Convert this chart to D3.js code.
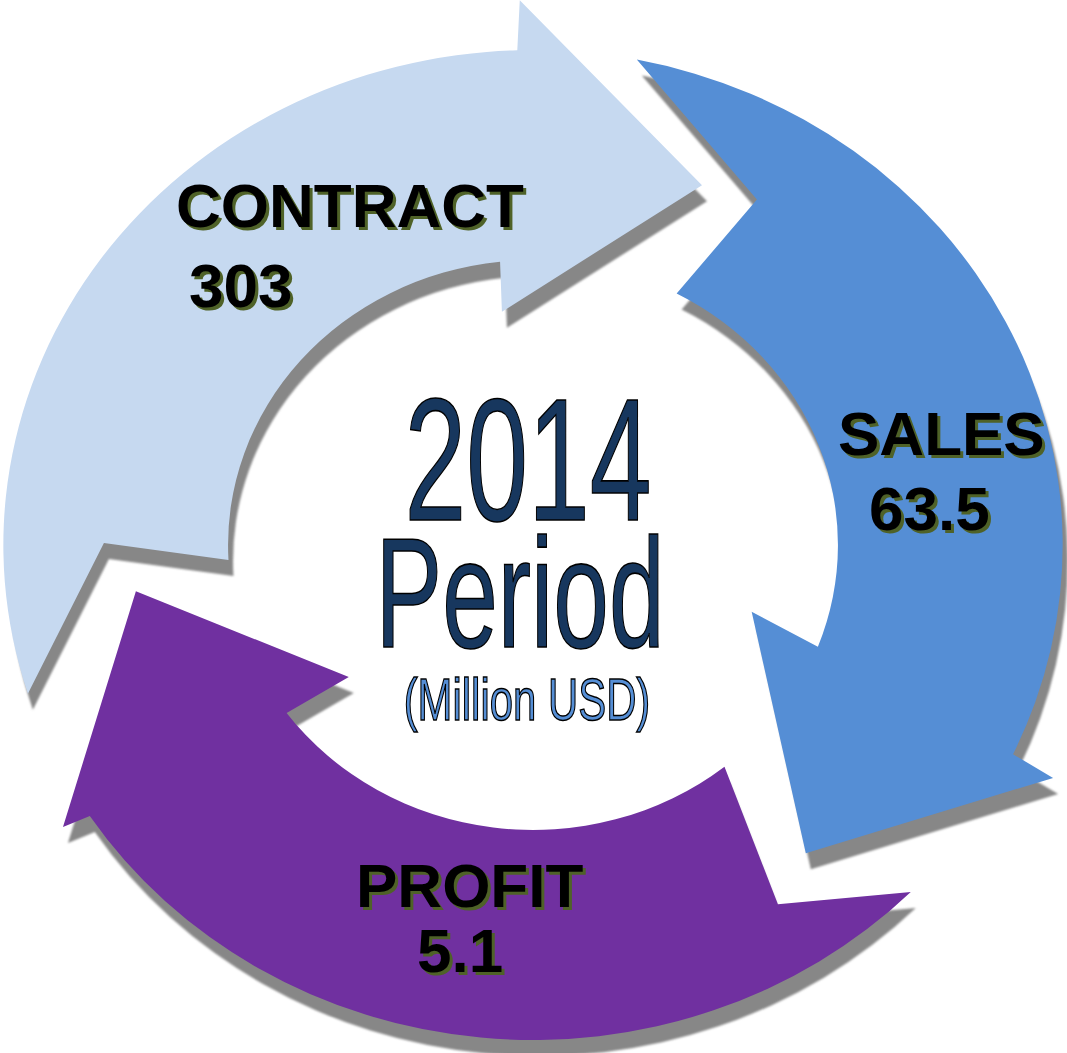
<!DOCTYPE html>
<html>
<head>
<meta charset="utf-8">
<script src="https://cdn.jsdelivr.net/npm/d3@7"></script>
<style>
  html, body { margin: 0; padding: 0; background: #ffffff; }
  svg { display: block; }
</style>
</head>
<body>
<script>
// ---- data ----
const categories = ["CONTRACT", "SALES", "PROFIT"];
const values = [303, 63.5, 5.1];
const valueLabels = ["303", "63.5", "5.1"];
const centerLines = ["2014", "Period", "(Million USD)"];

// ---- styles ----
const arrowColors = ["#C6D9F0", "#558ED5", "#7030A0"];
const shadowColor = "#878787";
const labelShadow = "#4F6228";

// ---- layout ----
const W = 1067, H = 1053;
const L = { cx: 533, cy: 545, sx: 1.07, rOut: 495, rIn: 285, shDx: 5, shDy: 16 };
// angles in degrees, clockwise from 12 o'clock
const arrowGeom = [
  { tail: 252.5, base: 358.3, tailInner: 14.5, notch: 17.8, notchR: 401,
    innerEnd: -4.5, innerWing: [-5.4, 235], outerWing: [0.4, 545], tip: [25.4, 393] },
  { tail: 11.3,  base: 115.0, tailInner: 16.8, notch: 19.9, notchR: 404,
    innerEnd: -4.1, innerWing: [-6.9, 215], outerWing: [0.6, 539], tip: [25.4, 400] },
  { tail: 134.5, base: 236.8, tailInner: 6.6,  notch: 13.0, notchR: 426,
    innerEnd: -2.9, innerWing: [-4.3, 217], outerWing: [0.5, 522], tip: [26.1, 374] }
];
const labelPos = [
  { x: 176, y: 227, vx: 189, vy: 307 },
  { x: 838, y: 455, vx: 869, vy: 530 },
  { x: 356, y: 907, vx: 417, vy: 972 }
];

const svg = d3.select("body").append("svg").attr("width", W).attr("height", H);
const defs = svg.append("defs");
defs.append("filter").attr("id", "soft").attr("x", "-5%").attr("y", "-5%").attr("width", "110%").attr("height", "110%")
  .append("feGaussianBlur").attr("stdDeviation", 0.8);

const rad = d => d * Math.PI / 180;
const pt = (deg, r) => [r * Math.sin(rad(deg)), -r * Math.cos(rad(deg))];
const ang = deg => rad(deg - 90);

function arrowPath(g) {
  const p = d3.path();
  const t0 = pt(g.tail, L.rOut);
  p.moveTo(t0[0], t0[1]);
  p.arc(0, 0, L.rOut, ang(g.tail), ang(g.base), false);
  let q = pt(g.base + g.outerWing[0], g.outerWing[1]); p.lineTo(q[0], q[1]);
  q = pt(g.base + g.tip[0], g.tip[1]); p.lineTo(q[0], q[1]);
  q = pt(g.base + g.innerWing[0], g.innerWing[1]); p.lineTo(q[0], q[1]);
  q = pt(g.base + g.innerEnd, L.rIn); p.lineTo(q[0], q[1]);
  p.arc(0, 0, L.rIn, ang(g.base + g.innerEnd), ang(g.tail + g.tailInner), true);
  q = pt(g.tail + g.notch, g.notchR); p.lineTo(q[0], q[1]);
  p.closePath();
  return p.toString();
}

const data = categories.map((c, i) => ({ name: c, value: values[i], label: valueLabels[i], geom: arrowGeom[i], color: arrowColors[i], pos: labelPos[i] }));

// shadows
svg.append("g")
  .attr("transform", `translate(${L.cx + L.shDx},${L.cy + L.shDy}) scale(${L.sx},1)`)
  .attr("filter", "url(#soft)")
  .selectAll("path").data(data).join("path")
  .attr("d", d => arrowPath(d.geom))
  .attr("fill", shadowColor);

// arrows
svg.append("g")
  .attr("transform", `translate(${L.cx},${L.cy}) scale(${L.sx},1)`)
  .selectAll("path").data(data).join("path")
  .attr("d", d => arrowPath(d.geom))
  .attr("fill", d => d.color);

// labels (olive shadow copy, then black text)
const lab = svg.append("g")
  .attr("font-family", "'Liberation Sans', Arial, sans-serif")
  .attr("font-weight", "bold")
  .attr("font-size", 62);
[[3, 3, labelShadow], [0, 0, "#000000"]].forEach(([dx, dy, col]) => {
  const gg = lab.append("g").attr("fill", col);
  gg.selectAll("text.n").data(data).join("text").attr("class", "n")
    .attr("x", d => d.pos.x + dx).attr("y", d => d.pos.y + dy).text(d => d.name);
  gg.selectAll("text.v").data(data).join("text").attr("class", "v")
    .attr("x", d => d.pos.vx + dx).attr("y", d => d.pos.vy + dy).text(d => d.label);
});

// center text
const centerStyle = [
  { x: 528, y: 520, size: 175, sx: 0.635, fill: "#17375E" },
  { x: 520, y: 647, size: 155, sx: 0.645, fill: "#17375E" },
  { x: 527, y: 720, size: 59, sx: 0.71, fill: "#558ED5" }
];
svg.append("g")
  .attr("font-family", "'Liberation Sans', Arial, sans-serif")
  .selectAll("text").data(centerLines).join("text")
  .attr("transform", (d, i) => `translate(${centerStyle[i].x},${centerStyle[i].y}) scale(${centerStyle[i].sx},1)`)
  .attr("text-anchor", "middle")
  .attr("font-size", (d, i) => centerStyle[i].size)
  .attr("fill", (d, i) => centerStyle[i].fill)
  .attr("stroke", "#000")
  .attr("stroke-width", 1.3)
  .attr("vector-effect", "non-scaling-stroke")
  .text(d => d);
</script>
</body>
</html>
